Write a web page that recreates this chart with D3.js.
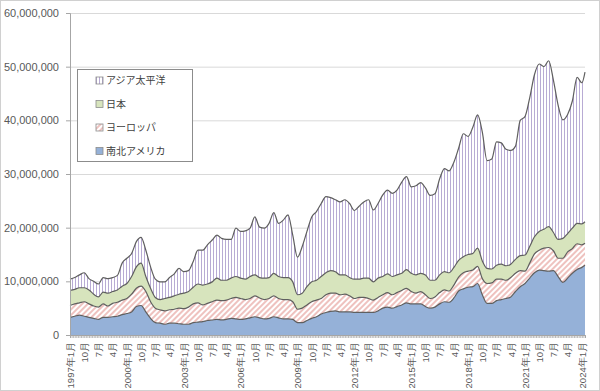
<!DOCTYPE html>
<html>
<head>
<meta charset="utf-8">
<script src="https://cdn.jsdelivr.net/npm/d3@7"></script>
<style>
  body { margin: 0; background: #fff; }
  svg { display: block; font-family: "Noto Sans CJK JP", "Noto Sans", sans-serif; }
</style>
</head>
<body>
<svg id="chart" width="600" height="391"></svg>
<script>
// values, one point per quarter (millions), last point 2024-03
const UNIT = 1e6;
const america = [
  3.3, 3.5, 3.7, 3.5,  3.3, 3.1, 2.9, 3.3,  3.3, 3.4, 3.5, 3.8,  4.0, 4.3, 5.3, 5.5,
  4.3, 3.1, 2.3, 2.2,  2.0, 2.2, 2.2, 2.1,  2.0, 2.0, 2.3, 2.4,  2.5, 2.7, 2.8, 2.9,
  2.8, 2.9, 3.1, 3.0,  2.9, 3.0, 3.2, 3.4,  3.2, 3.0, 3.1, 3.4,  3.2, 3.0, 3.0, 2.9,
  2.3, 2.3, 2.7, 3.1,  3.4, 3.9, 4.2, 4.4,  4.5, 4.3, 4.3, 4.3,  4.2, 4.2, 4.2, 4.2,
  4.2, 4.5, 5.0, 5.2,  5.0, 5.3, 5.6, 6.0,  5.8, 5.8, 5.8, 5.3,  5.0, 5.2, 5.8, 6.2,
  6.1, 6.9, 8.2, 8.6,  8.9, 9.0, 9.6, 7.5,  5.9, 5.9, 6.4, 6.6,  6.8, 7.1, 8.1, 9.0,
  9.6, 10.6, 11.6, 12.1,  12.0, 11.9, 12.0, 10.9,  9.8, 10.6, 11.5, 12.2,  12.6, 13.0
];
const europe = [
  2.2, 2.3, 2.3, 2.7,  2.5, 2.3, 2.3, 2.5,  2.1, 2.5, 2.6, 2.7,  2.8, 3.3, 3.4, 3.6,
  3.8, 3.1, 2.7, 2.5,  2.5, 2.5, 2.6, 2.9,  2.9, 3.2, 3.5, 3.6,  3.1, 3.2, 3.4, 3.6,
  3.6, 3.6, 3.7, 4.0,  3.9, 3.6, 3.6, 3.9,  3.7, 3.6, 3.7, 3.9,  3.6, 3.6, 3.6, 3.3,
  2.5, 2.7, 2.9, 3.1,  3.1, 2.9, 3.3, 3.4,  3.3, 3.2, 3.3, 3.0,  2.6, 2.8, 2.8, 2.6,
  2.3, 2.5, 2.5, 2.7,  2.5, 2.6, 2.7, 2.7,  2.3, 2.0, 2.3, 2.2,  1.8, 1.9, 2.1, 2.2,
  2.1, 2.4, 2.6, 3.0,  3.0, 3.1, 3.2, 3.0,  3.7, 3.8, 4.0, 3.8,  3.4, 3.6, 3.4, 3.0,
  2.3, 2.8, 3.5, 3.7,  4.2, 4.4, 3.7, 3.4,  4.5, 4.9, 4.6, 4.8,  4.2, 4.1
];
const japan = [
  2.8, 2.7, 2.8, 2.6,  2.6, 2.2, 1.9, 2.2,  2.4, 2.2, 2.3, 2.6,  2.8, 3.3, 4.0, 4.3,
  2.8, 2.5, 2.0, 1.9,  2.3, 2.3, 2.5, 2.6,  2.9, 2.9, 3.1, 3.5,  3.7, 3.6, 3.7, 4.1,
  3.8, 3.7, 3.8, 3.9,  3.8, 3.8, 4.1, 3.9,  3.8, 4.0, 3.9, 4.2,  4.1, 4.1, 4.1, 3.7,
  2.7, 2.8, 3.4, 3.7,  3.7, 4.1, 4.1, 4.2,  4.0, 3.7, 3.6, 3.4,  3.6, 3.4, 3.6, 3.8,
  3.4, 3.6, 3.4, 3.5,  3.4, 3.3, 3.2, 3.5,  3.4, 3.4, 3.4, 3.7,  3.4, 3.1, 3.3, 3.4,
  3.4, 3.3, 3.1, 3.0,  3.1, 3.1, 3.4, 3.3,  2.8, 2.6, 2.6, 2.8,  2.7, 2.5, 2.6, 2.8,
  3.0, 3.1, 3.2, 3.5,  3.5, 3.9, 3.4, 3.5,  3.7, 3.4, 3.8, 3.8,  3.9, 4.0
];
const asia = [
  2.1, 2.2, 2.4, 2.8,  2.1, 2.4, 2.4, 2.7,  2.7, 2.6, 2.7, 4.3,  4.7, 4.3, 4.7, 4.8,
  4.9, 4.0, 3.4, 3.3,  3.1, 3.7, 4.1, 4.8,  4.0, 3.9, 4.8, 6.3,  6.5, 7.3, 7.8, 8.0,
  7.8, 7.6, 7.2, 9.0,  8.7, 9.0, 9.0, 10.8,  9.4, 9.3, 10.1, 11.3,  9.9, 10.7, 11.7, 8.7,
  7.0, 8.7, 10.3, 12.1,  12.8, 13.6, 14.2, 13.6,  13.4, 13.6, 14.0, 13.8,  12.8, 13.6, 14.2, 14.6,
  13.4, 13.9, 15.2, 15.6,  15.5, 15.8, 17.0, 17.3,  16.1, 16.6, 16.9, 16.2,  15.8, 16.1, 17.9, 19.2,
  19.0, 19.6, 20.9, 22.9,  22.0, 23.5, 24.8, 24.0,  20.1, 20.5, 23.0, 22.6,  21.7, 21.2, 21.1, 25.2,
  25.8, 27.7, 30.2, 31.2,  30.3, 30.9, 28.4, 25.0,  22.1, 22.2, 23.7, 27.2,  26.3, 27.9
];

// month index from 1997年1月: every quarter up to 2024年1月, then 2024年3月
const monthIdx = d3.range(0, 325, 3).concat([326]);
const keys = ['america', 'europe', 'japan', 'asia'];
const legendLabels = ['アジア太平洋', '日本', 'ヨーロッパ', '南北アメリカ'];
const legendKeys = ['asia', 'japan', 'europe', 'america'];
const yTicks = [0, 10e6, 20e6, 30e6, 40e6, 50e6, 60e6];

const width = 600, height = 391;
const margin = { top: 13, right: 15, bottom: 56, left: 70 };

const svg = d3.select('#chart');

// patterns for the hatched series
const defs = svg.append('defs');
const pv = defs.append('pattern')
  .attr('id', 'pat-asia').attr('patternUnits', 'userSpaceOnUse')
  .attr('width', 3).attr('height', 10);
pv.append('rect').attr('width', 3).attr('height', 10).attr('fill', '#fff');
pv.append('line').attr('x1', 0.5).attr('x2', 0.5).attr('y1', 0).attr('y2', 10)
  .attr('stroke', '#b8abd4').attr('stroke-width', 1);

const pd = defs.append('pattern')
  .attr('id', 'pat-europe').attr('patternUnits', 'userSpaceOnUse')
  .attr('width', 4).attr('height', 10).attr('patternTransform', 'rotate(45)');
pd.append('rect').attr('width', 4).attr('height', 10).attr('fill', '#fff');
pd.append('line').attr('x1', 1).attr('x2', 1).attr('y1', 0).attr('y2', 10)
  .attr('stroke', '#e8a8a4').attr('stroke-width', 1.4);

const fills = {
  america: '#95b1d8',
  europe: 'url(#pat-europe)',
  japan: '#d7e4bd',
  asia: 'url(#pat-asia)'
};

const x = d3.scaleLinear().domain([0, 326]).range([margin.left, width - margin.right]);
const y = d3.scaleLinear().domain([0, 60e6]).range([height - margin.bottom, margin.top]);

const rows = monthIdx.map((m, i) => ({
  m,
  america: america[i] * UNIT,
  europe: europe[i] * UNIT,
  japan: japan[i] * UNIT,
  asia: asia[i] * UNIT
}));
const stacked = d3.stack().keys(keys)(rows);

// outer frame
svg.append('rect')
  .attr('x', 0.5).attr('y', 0.5).attr('width', width - 1).attr('height', height - 1)
  .attr('fill', '#fff').attr('stroke', '#d0d0d0');

// gridlines
svg.append('g').selectAll('line')
  .data(yTicks.filter(d => d > 0))
  .join('line')
  .attr('x1', x(0)).attr('x2', x(326))
  .attr('y1', d => y(d) + 0.5).attr('y2', d => y(d) + 0.5)
  .attr('stroke', '#d9d9d9');

const area = d3.area()
  .x(d => x(d.data.m))
  .y0(d => y(d[0]))
  .y1(d => y(d[1]))
  .curve(d3.curveMonotoneX);

const line = d3.line()
  .x(d => x(d.data.m))
  .y(d => y(d[1]))
  .curve(d3.curveMonotoneX);

svg.append('g').selectAll('path')
  .data(stacked)
  .join('path')
  .attr('d', area)
  .attr('fill', d => fills[d.key]);

svg.append('g').selectAll('path')
  .data(stacked)
  .join('path')
  .attr('d', line)
  .attr('fill', 'none')
  .attr('stroke', '#5f5f5f')
  .attr('stroke-width', 1.2);

// y axis
const yAxis = svg.append('g')
  .attr('transform', `translate(${margin.left},0)`)
  .call(d3.axisLeft(y).tickValues(yTicks).tickSize(4).tickPadding(7)
    .tickFormat(d3.format(',')));
yAxis.select('.domain').attr('stroke', '#a6a6a6');
yAxis.selectAll('.tick line').attr('stroke', '#a6a6a6');
yAxis.selectAll('text')
  .attr('fill', '#595959')
  .style('font-size', '11px');

// x axis: a tick per month, a label every 9 months
const xBase = height - margin.bottom;
const xTicks = svg.append('g')
  .attr('transform', `translate(0,${xBase})`)
  .call(d3.axisBottom(x).tickValues(d3.range(0, 327)).tickSize(3).tickFormat(''));
xTicks.select('.domain').attr('stroke', '#a6a6a6');
xTicks.selectAll('.tick line').attr('stroke', '#a6a6a6').attr('stroke-width', 0.8);

function monthLabel(i) {
  const yr = 1997 + Math.floor(i / 12);
  const mo = (i % 12) + 1;
  return mo === 1 ? `${yr}年1月` : `${mo}月`;
}

const xLabels = svg.append('g')
  .attr('transform', `translate(0,${xBase})`)
  .call(d3.axisBottom(x).tickValues(d3.range(0, 325, 9)).tickSize(0).tickFormat(monthLabel));
xLabels.select('.domain').remove();
xLabels.selectAll('text')
  .attr('transform', 'rotate(-90)')
  .attr('x', -7)
  .attr('y', 0)
  .attr('dy', '0.35em')
  .style('text-anchor', 'end')
  .style('font-size', '9.5px')
  .attr('fill', '#595959');

// legend
const legend = svg.append('g');
legend.append('rect')
  .attr('x', 77.5).attr('y', 69.5).attr('width', 115).attr('height', 92)
  .attr('fill', '#fff').attr('stroke', '#8c8c8c');

const items = legend.selectAll('g.item')
  .data(legendKeys)
  .join('g')
  .attr('class', 'item')
  .attr('transform', (d, i) => `translate(96,${80.5 + i * 23.5})`);
items.append('rect')
  .attr('x', 0).attr('y', -3.5).attr('width', 7).attr('height', 7)
  .attr('fill', d => fills[d])
  .attr('stroke', '#8c8c8c').attr('stroke-width', 0.8);
items.append('text')
  .attr('x', 10).attr('y', 0).attr('dy', '0.35em')
  .style('font-size', '10px')
  .attr('fill', '#404040')
  .text((d, i) => legendLabels[i]);
</script>
</body>
</html>
